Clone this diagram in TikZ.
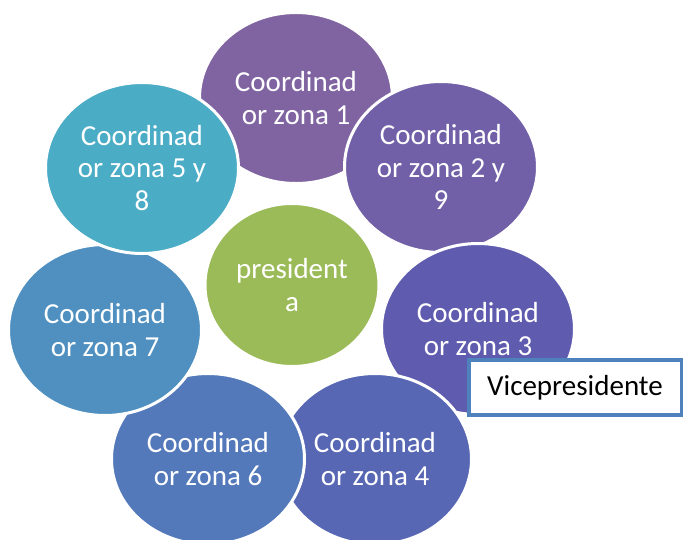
\documentclass[tikz,border=0pt]{standalone}
\usepackage{fontspec}
\setmainfont{Carlito}
\usetikzlibrary{shapes.geometric}
\definecolor{zone1}{HTML}{8064A2}
\definecolor{zone2}{HTML}{7160A8}
\definecolor{zone3}{HTML}{5F5BAE}
\definecolor{zone4}{HTML}{5767B4}
\definecolor{zone6}{HTML}{5379BA}
\definecolor{zone7}{HTML}{4F90C0}
\definecolor{zone5}{HTML}{4BACC6}
\definecolor{boss}{HTML}{9BBB59}
\definecolor{viceline}{HTML}{4F81BD}
\tikzset{
  zone/.style={ellipse, draw=white, line width=3pt, minimum width=193pt,
    minimum height=171pt, inner sep=0pt, align=center, text=white,
    font=\fontsize{29}{32.5}\selectfont},
  vicebox/.style={rectangle, draw=viceline, line width=4pt, fill=white,
    minimum width=213pt, minimum height=55pt, inner sep=0pt,
    font=\fontsize{29}{32}\selectfont}
}
\begin{document}
\begin{tikzpicture}[x=1pt,y=-1pt]
      \useasboundingbox (0,0) rectangle (683,539);
      \draw
        (296,98) node[zone,fill=zone1] (1){Coordinad\\or zona 1}
        (441,167) node[zone,fill=zone2] (2){Coordinad\\or zona 2 y\\9}
        (478,329) node[zone,fill=zone3] (3){Coordinad\\or zona 3}
        (375,459) node[zone,fill=zone4] (4){Coordinad\\or zona 4}
        (208,459) node[zone,fill=zone6] (6){Coordinad\\or zona 6}
        (105,330) node[zone,fill=zone7] (7){Coordinad\\or zona 7}
        (142,168) node[zone,fill=zone5] (5){Coordinad\\or zona 5 y\\8}
        (292,285) node[zone,fill=boss,minimum width=174pt,minimum height=163pt] (0){president\\a};
      \node[vicebox] (v) at (575,387.5) {Vicepresidente};
    \end{tikzpicture}
\end{document}
